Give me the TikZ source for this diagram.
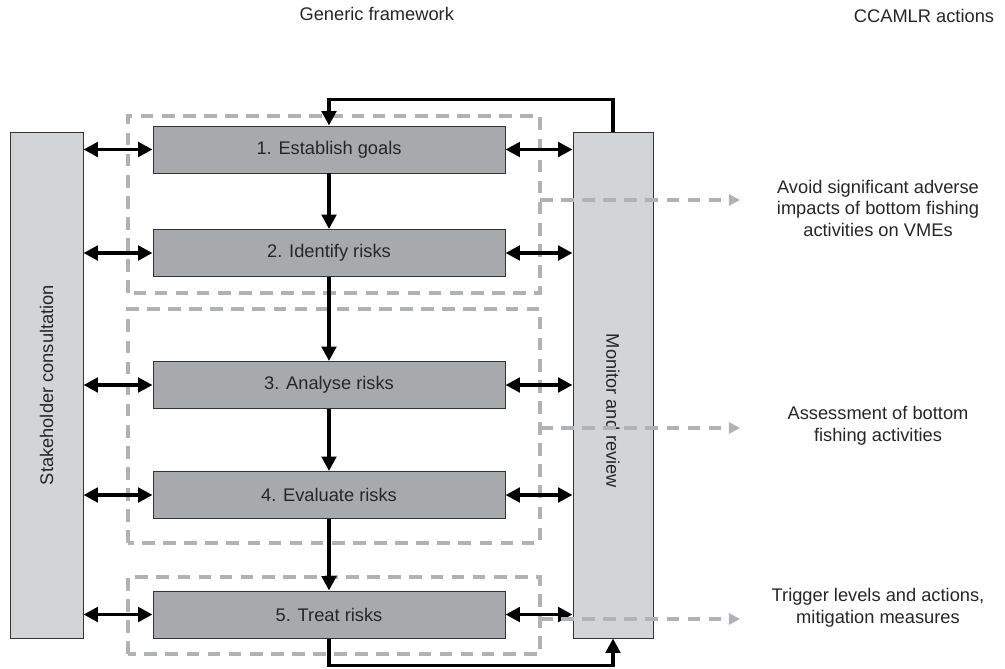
\documentclass[tikz,border=0pt]{standalone}
\usepackage{fontspec}
\setmainfont{Liberation Sans}
\usetikzlibrary{arrows.meta}
\definecolor{stepgrey}{HTML}{A7A9AC}
\definecolor{sidegrey}{HTML}{D3D4D6}
\definecolor{dashgrey}{HTML}{B1B2B5}
\definecolor{txtgrey}{HTML}{262626}
\begin{document}
\begin{tikzpicture}[
	font=\fontsize{13}{15.3}\selectfont, text=txtgrey,
	stepbox/.style={draw=black!80, fill=stepgrey, line width=0.7pt, minimum width=8.8cm, minimum height=1.175cm, inner sep=0pt},
	sidebox/.style={draw=black!80, fill=sidegrey, line width=0.7pt, minimum height=12.65cm, inner sep=0pt},
	flow/.style={line width=2.8pt, -{Triangle[length=3.6mm,width=3.6mm]}},
	twoway/.style={line width=2.8pt, {Triangle[length=3.6mm,width=3.6mm]}-{Triangle[length=3.6mm,width=3.6mm]}},
	dashbox/.style={dashgrey, line width=2.4pt, dash pattern=on 9pt off 6pt},
	dasharrow/.style={dashbox, -{Triangle[length=2.8mm,width=2.8mm]}}]
	\useasboundingbox (0,0) rectangle (25.125,16.7);
	\draw[dashbox] (3.2,9.375) rectangle (13.5,13.8);
	\draw[dashbox] (3.2,3.125) rectangle (13.5,8.975);
	\draw[dashbox] (3.2,0.35) rectangle (13.5,2.275);
	\node[sidebox, minimum width=1.825cm] (stake) at (1.1625,7.075) {};
	\node[rotate=90] (stakelbl) at (stake.center) {Stakeholder consultation};
	\node[sidebox, minimum width=2cm] (monitor) at (15.325,7.075) {};
	\node[rotate=-90] (monitorlbl) at ([yshift=-0.65cm]monitor.center) {Monitor and review};
	\foreach \i/\y/\txt in {1/12.9625/1. Establish goals, 2/10.375/2. Identify risks, 3/7.075/3. Analyse risks, 4/4.325/4. Evaluate risks, 5/1.3375/5. Treat risks} {
		\node[stepbox] (s\i) at (8.225,\y) {\txt};
		\draw[twoway] (stake.east |- s\i.west) -- (s\i.west);
		\draw[twoway] (s\i.east) -- (monitor.west |- s\i.east);
	}
	\foreach \i/\j in {1/2,2/3,3/4,4/5} \draw[flow] (s\i.south) -- (s\j.north);
	\draw[flow] (monitor.north) -- ++(0,0.8) -| (s1.north);
	\draw[flow] (s5.south) -- ++(0,-0.675) -| (monitor.south);
	\node (generic) at (9.42,16.35) {Generic framework};
	\node (ccamlr) at (23.1,16.3) {CCAMLR actions};
	\node[align=center] (act1) at (21.95,11.5) {Avoid significant adverse\\impacts of bottom fishing\\activities on VMEs};
	\node[align=center] (act2) at (21.95,6.06) {Assessment of bottom\\fishing activities};
	\node[align=center] (act3) at (21.95,1.51) {Trigger levels and actions,\\mitigation measures};
	\foreach \i/\y in {1/11.7,2/6.0,3/1.225} {
		\coordinate (from\i) at (13.5,\y);
		\coordinate (to\i) at (18.5,\y);
		\draw[dasharrow] (from\i) -- (to\i);
	}
\end{tikzpicture}
\end{document}
